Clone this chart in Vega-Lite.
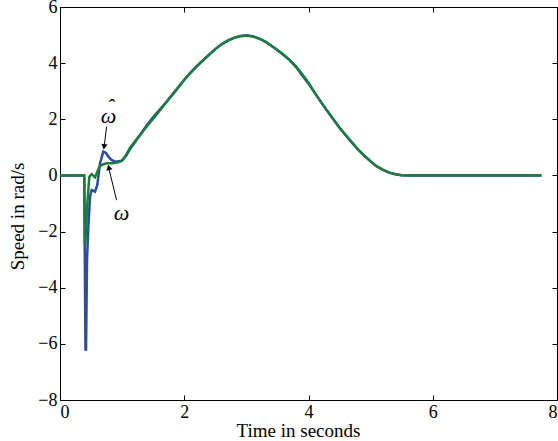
{
  "$schema": "https://vega.github.io/schema/vega-lite/v6.json",
  "width": 497,
  "height": 393,
  "autosize": "none",
  "padding": {"left": 60, "top": 7, "right": 1, "bottom": 41},
  "config": {
    "font": "Liberation Serif",
    "view": {"stroke": "black", "strokeWidth": 1},
    "axis": {
      "domainColor": "black",
      "tickColor": "black",
      "tickSize": -5,
      "labelColor": "black",
      "labelFont": "Liberation Serif",
      "labelFontSize": 18,
      "titleFont": "Liberation Serif",
      "titleFontSize": 19,
      "titleFontWeight": "normal",
      "titleColor": "black",
      "grid": false
    }
  },
  "datasets": {
    "speed": [
      {"t": 0, "v": 0, "s": "est"},
      {"t": 0.39, "v": 0, "s": "est"},
      {"t": 0.41, "v": -6.2, "s": "est"},
      {"t": 0.419, "v": -6.2, "s": "est"},
      {"t": 0.435, "v": -3.0, "s": "est"},
      {"t": 0.456, "v": -1.83, "s": "est"},
      {"t": 0.483, "v": -0.76, "s": "est"},
      {"t": 0.51, "v": -0.52, "s": "est"},
      {"t": 0.54, "v": -0.55, "s": "est"},
      {"t": 0.564, "v": -0.58, "s": "est"},
      {"t": 0.6, "v": -0.34, "s": "est"},
      {"t": 0.644, "v": 0.43, "s": "est"},
      {"t": 0.697, "v": 0.85, "s": "est"},
      {"t": 0.74, "v": 0.8, "s": "est"},
      {"t": 0.778, "v": 0.67, "s": "est"},
      {"t": 0.83, "v": 0.55, "s": "est"},
      {"t": 0.886, "v": 0.49, "s": "est"},
      {"t": 0.994, "v": 0.52, "s": "est"},
      {"t": 1.07, "v": 0.72, "s": "est"},
      {"t": 1.13, "v": 0.95, "s": "est"},
      {"t": 1.2, "v": 1.16, "s": "est"},
      {"t": 1.3, "v": 1.48, "s": "est"},
      {"t": 1.4, "v": 1.8, "s": "est"},
      {"t": 1.5, "v": 2.08, "s": "est"},
      {"t": 1.6, "v": 2.33, "s": "est"},
      {"t": 1.7, "v": 2.59, "s": "est"},
      {"t": 1.8, "v": 2.86, "s": "est"},
      {"t": 1.9, "v": 3.13, "s": "est"},
      {"t": 2.0, "v": 3.41, "s": "est"},
      {"t": 2.1, "v": 3.66, "s": "est"},
      {"t": 2.2, "v": 3.89, "s": "est"},
      {"t": 2.3, "v": 4.1, "s": "est"},
      {"t": 2.4, "v": 4.3, "s": "est"},
      {"t": 2.5, "v": 4.5, "s": "est"},
      {"t": 2.6, "v": 4.67, "s": "est"},
      {"t": 2.7, "v": 4.8, "s": "est"},
      {"t": 2.8, "v": 4.9, "s": "est"},
      {"t": 2.9, "v": 4.97, "s": "est"},
      {"t": 3.0, "v": 4.99, "s": "est"},
      {"t": 3.1, "v": 4.96, "s": "est"},
      {"t": 3.2, "v": 4.88, "s": "est"},
      {"t": 3.3, "v": 4.77, "s": "est"},
      {"t": 3.4, "v": 4.62, "s": "est"},
      {"t": 3.5, "v": 4.46, "s": "est"},
      {"t": 3.6, "v": 4.29, "s": "est"},
      {"t": 3.7, "v": 4.1, "s": "est"},
      {"t": 3.8, "v": 3.86, "s": "est"},
      {"t": 3.9, "v": 3.56, "s": "est"},
      {"t": 4.0, "v": 3.27, "s": "est"},
      {"t": 4.1, "v": 2.94, "s": "est"},
      {"t": 4.2, "v": 2.62, "s": "est"},
      {"t": 4.3, "v": 2.3, "s": "est"},
      {"t": 4.4, "v": 2.0, "s": "est"},
      {"t": 4.5, "v": 1.7, "s": "est"},
      {"t": 4.6, "v": 1.43, "s": "est"},
      {"t": 4.7, "v": 1.17, "s": "est"},
      {"t": 4.8, "v": 0.92, "s": "est"},
      {"t": 4.9, "v": 0.7, "s": "est"},
      {"t": 5.0, "v": 0.5, "s": "est"},
      {"t": 5.1, "v": 0.32, "s": "est"},
      {"t": 5.2, "v": 0.2, "s": "est"},
      {"t": 5.3, "v": 0.1, "s": "est"},
      {"t": 5.4, "v": 0.04, "s": "est"},
      {"t": 5.5, "v": 0.01, "s": "est"},
      {"t": 5.6, "v": 0, "s": "est"},
      {"t": 7.75, "v": 0, "s": "est"},
      {"t": 0, "v": 0, "s": "meas"},
      {"t": 0.39, "v": 0, "s": "meas"},
      {"t": 0.4, "v": -2.45, "s": "meas"},
      {"t": 0.407, "v": -2.45, "s": "meas"},
      {"t": 0.44, "v": -1.0, "s": "meas"},
      {"t": 0.472, "v": -0.05, "s": "meas"},
      {"t": 0.51, "v": 0.05, "s": "meas"},
      {"t": 0.564, "v": -0.07, "s": "meas"},
      {"t": 0.633, "v": 0.31, "s": "meas"},
      {"t": 0.68, "v": 0.38, "s": "meas"},
      {"t": 0.752, "v": 0.43, "s": "meas"},
      {"t": 0.85, "v": 0.43, "s": "meas"},
      {"t": 0.95, "v": 0.48, "s": "meas"},
      {"t": 1.0, "v": 0.53, "s": "meas"},
      {"t": 1.07, "v": 0.75, "s": "meas"},
      {"t": 1.13, "v": 1.0, "s": "meas"},
      {"t": 1.2, "v": 1.2, "s": "meas"},
      {"t": 1.3, "v": 1.47, "s": "meas"},
      {"t": 1.4, "v": 1.75, "s": "meas"},
      {"t": 1.5, "v": 2.02, "s": "meas"},
      {"t": 1.6, "v": 2.3, "s": "meas"},
      {"t": 1.7, "v": 2.57, "s": "meas"},
      {"t": 1.8, "v": 2.85, "s": "meas"},
      {"t": 1.9, "v": 3.12, "s": "meas"},
      {"t": 2.0, "v": 3.4, "s": "meas"},
      {"t": 2.1, "v": 3.65, "s": "meas"},
      {"t": 2.2, "v": 3.88, "s": "meas"},
      {"t": 2.3, "v": 4.1, "s": "meas"},
      {"t": 2.4, "v": 4.3, "s": "meas"},
      {"t": 2.5, "v": 4.5, "s": "meas"},
      {"t": 2.6, "v": 4.67, "s": "meas"},
      {"t": 2.7, "v": 4.8, "s": "meas"},
      {"t": 2.8, "v": 4.9, "s": "meas"},
      {"t": 2.9, "v": 4.96, "s": "meas"},
      {"t": 3.0, "v": 4.98, "s": "meas"},
      {"t": 3.1, "v": 4.95, "s": "meas"},
      {"t": 3.2, "v": 4.88, "s": "meas"},
      {"t": 3.3, "v": 4.78, "s": "meas"},
      {"t": 3.4, "v": 4.63, "s": "meas"},
      {"t": 3.5, "v": 4.47, "s": "meas"},
      {"t": 3.6, "v": 4.3, "s": "meas"},
      {"t": 3.7, "v": 4.11, "s": "meas"},
      {"t": 3.8, "v": 3.88, "s": "meas"},
      {"t": 3.9, "v": 3.6, "s": "meas"},
      {"t": 4.0, "v": 3.3, "s": "meas"},
      {"t": 4.1, "v": 2.95, "s": "meas"},
      {"t": 4.2, "v": 2.62, "s": "meas"},
      {"t": 4.3, "v": 2.3, "s": "meas"},
      {"t": 4.4, "v": 2.0, "s": "meas"},
      {"t": 4.5, "v": 1.7, "s": "meas"},
      {"t": 4.6, "v": 1.43, "s": "meas"},
      {"t": 4.7, "v": 1.17, "s": "meas"},
      {"t": 4.8, "v": 0.92, "s": "meas"},
      {"t": 4.9, "v": 0.7, "s": "meas"},
      {"t": 5.0, "v": 0.5, "s": "meas"},
      {"t": 5.1, "v": 0.32, "s": "meas"},
      {"t": 5.2, "v": 0.2, "s": "meas"},
      {"t": 5.3, "v": 0.1, "s": "meas"},
      {"t": 5.4, "v": 0.04, "s": "meas"},
      {"t": 5.5, "v": 0.01, "s": "meas"},
      {"t": 5.6, "v": 0, "s": "meas"},
      {"t": 7.75, "v": 0, "s": "meas"}
    ],
    "labels": [
      {"t": 0.78, "v": 2.12, "label": "ω"},
      {"t": 0.81, "v": 2.42, "label": "ˆ"},
      {"t": 0.99, "v": -1.35, "label": "ω"}
    ],
    "arrows": [
      {"t": 0.75, "v": 1.74, "t2": 0.715, "v2": 1.1},
      {"t": 0.91, "v": -0.88, "t2": 0.79, "v2": 0.22}
    ]
  },
  "layer": [
    {
      "data": {"name": "speed"},
      "transform": [{"filter": "datum.s === 'est'"}],
      "mark": {"type": "line", "color": "#2b4ba6", "strokeWidth": 2.5},
      "encoding": {
        "x": {"field": "t", "type": "quantitative", "scale": {"domain": [0, 8], "nice": false},
              "axis": {"orient": "bottom", "values": [0, 2, 4, 6, 8], "title": "Time in seconds", "labelPadding": 8, "titlePadding": 0, "titleX": 238}},
        "y": {"field": "v", "type": "quantitative", "scale": {"domain": [-8, 6], "nice": false},
              "axis": {"orient": "left", "values": [-8, -6, -4, -2, 0, 2, 4, 6], "title": "Speed in rad/s", "labelPadding": 8, "titlePadding": 10, "titleY": 209}}
      }
    },
    {
      "data": {"name": "speed"},
      "transform": [{"filter": "datum.s === 'meas'"}],
      "mark": {"type": "line", "color": "#1e7d3c", "strokeWidth": 2.5},
      "encoding": {
        "x": {"field": "t", "type": "quantitative", "axis": {"orient": "top", "values": [0, 2, 4, 6, 8], "labels": false, "title": null}},
        "y": {"field": "v", "type": "quantitative", "axis": {"orient": "right", "values": [-8, -6, -4, -2, 0, 2, 4, 6], "labels": false, "title": null}}
      }
    },
    {
      "data": {"name": "arrows"},
      "mark": {"type": "rule", "color": "black", "strokeWidth": 1},
      "encoding": {
        "x": {"field": "t", "type": "quantitative", "axis": null},
        "y": {"field": "v", "type": "quantitative", "axis": null},
        "x2": {"field": "t2"},
        "y2": {"field": "v2"}
      }
    },
    {
      "data": {"values": [{"t": 0.71, "v": 1.02}]},
      "mark": {"type": "point", "shape": "triangle-up", "filled": true, "color": "black", "size": 40, "angle": 188, "opacity": 1},
      "encoding": {
        "x": {"field": "t", "type": "quantitative", "axis": null},
        "y": {"field": "v", "type": "quantitative", "axis": null}
      }
    },
    {
      "data": {"values": [{"t": 0.785, "v": 0.29}]},
      "mark": {"type": "point", "shape": "triangle-up", "filled": true, "color": "black", "size": 40, "angle": 346, "opacity": 1},
      "encoding": {
        "x": {"field": "t", "type": "quantitative", "axis": null},
        "y": {"field": "v", "type": "quantitative", "axis": null}
      }
    },
    {
      "data": {"name": "labels"},
      "mark": {"type": "text", "font": "Liberation Serif", "fontStyle": "italic", "fontSize": 22, "color": "black", "baseline": "middle", "align": "center"},
      "encoding": {
        "x": {"field": "t", "type": "quantitative", "axis": null},
        "y": {"field": "v", "type": "quantitative", "axis": null},
        "text": {"field": "label"}
      }
    }
  ],
  "resolve": {"axis": {"x": "independent", "y": "independent"}}
}
